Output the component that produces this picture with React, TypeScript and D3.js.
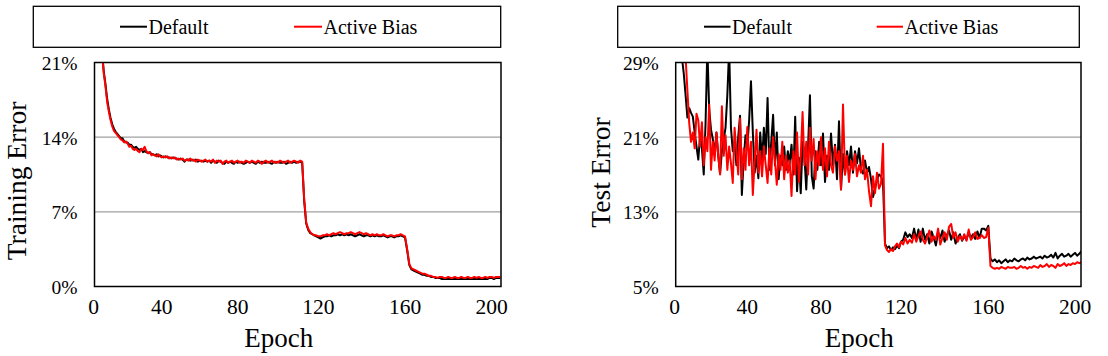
import React from "react";
import * as d3 from "d3";

// ---------- DATA ----------
const xTicks = [0, 40, 80, 120, 160, 200];
const trainTicks = [0, 7, 14, 21];
const testTicks = [5, 13, 21, 29];
const seriesNames = ["Default", "Active Bias"];
const seriesColors = ["#000000", "#ff0000"];

// Training error (%), epochs 1..204
const trainDefault = [
  60, 45, 35, 27, 22, 20.2, 19.0, 17.6, 16.6, 15.8,
  15.2, 14.8, 14.5, 14.3, 14.1, 13.9, 13.9, 13.6, 13.5, 13.5,
  13.3, 13.3, 13.1, 13.0, 13.1, 12.9, 12.8, 12.9, 12.6, 12.7,
  12.6, 12.5, 12.6, 12.4, 12.4, 12.3, 12.4, 12.2, 12.3, 12.2,
  12.1, 12.2, 12.1, 12.1, 12.0, 12.1, 12.0, 12.0, 11.9, 12.0,
  11.9, 11.7, 11.9, 11.9, 11.8, 11.9, 11.8, 11.9, 11.7, 11.8,
  11.8, 11.7, 11.8, 11.7, 11.8, 11.6, 11.8, 11.7, 11.6, 11.8,
  11.7, 11.6, 11.5, 11.7, 11.6, 11.7, 11.6, 11.5, 11.7, 11.6,
  11.7, 11.6, 11.5, 11.6, 11.7, 11.6, 11.7, 11.6, 11.5, 11.7,
  11.6, 11.7, 11.6, 11.6, 11.7, 11.6, 11.5, 11.7, 11.6, 11.7,
  11.6, 11.6, 11.7, 11.5, 11.6, 11.7, 11.6, 11.7, 11.6, 11.7,
  11.7, 11.6, 8.0, 5.9, 5.3, 5.0, 4.9, 4.8, 4.7, 4.6,
  4.5, 4.6, 4.7, 4.7, 4.8, 4.7, 4.8, 4.8, 4.9, 4.8,
  4.9, 4.8, 4.9, 4.8, 4.9, 4.8, 4.7, 4.8, 4.9, 4.8,
  4.7, 4.8, 4.8, 4.7, 4.8, 4.7, 4.8, 4.7, 4.7, 4.8,
  4.7, 4.6, 4.7, 4.7, 4.6, 4.7, 4.7, 4.8, 4.7, 4.6,
  3.4, 2.0, 1.6, 1.5, 1.4, 1.3, 1.2, 1.1, 1.1, 1.0,
  1.0, 0.9, 0.9, 0.8, 0.8, 0.8, 0.7, 0.8, 0.7, 0.7,
  0.8, 0.7, 0.7, 0.8, 0.7, 0.7, 0.7, 0.8, 0.7, 0.7,
  0.8, 0.7, 0.7, 0.8, 0.7, 0.8, 0.7, 0.7, 0.8, 0.8,
  0.7, 0.8, 0.8, 0.8,
];
const trainActiveBias = [
  60, 45, 35, 27, 22, 20.0, 18.8, 17.3, 16.4, 15.6,
  15.0, 14.6, 14.4, 14.2, 14.0, 13.8, 13.7, 13.5, 13.6, 13.4,
  13.1, 13.2, 12.9, 12.8, 12.9, 12.7, 12.6, 12.9, 12.8, 13.1,
  12.7, 12.5, 12.6, 12.3, 12.4, 12.3, 12.2, 12.4, 12.2, 12.1,
  12.2, 12.1, 12.2, 12.0, 12.1, 12.0, 12.1, 11.9, 12.0, 11.9,
  12.0, 11.8, 11.9, 11.8, 12.0, 11.8, 11.9, 11.7, 11.9, 11.8,
  11.7, 11.8, 11.9, 11.7, 11.8, 11.7, 11.9, 11.6, 11.8, 11.7,
  11.8, 11.5, 11.7, 11.8, 11.6, 11.7, 11.8, 11.6, 11.7, 11.8,
  11.6, 11.7, 11.6, 11.8, 11.7, 11.6, 11.8, 11.7, 11.6, 11.8,
  11.7, 11.5, 11.7, 11.8, 11.6, 11.7, 11.8, 11.6, 11.7, 11.6,
  11.8, 11.7, 11.6, 11.7, 11.8, 11.6, 11.7, 11.8, 11.7, 11.6,
  11.8, 11.7, 8.2, 6.0, 5.4, 5.1, 4.9, 4.8, 4.8, 4.7,
  4.7, 4.8, 4.8, 4.9, 4.8, 4.9, 5.0, 4.9, 5.0, 5.1,
  5.0, 4.9, 5.0, 5.0, 5.1, 5.0, 4.9, 5.0, 5.1, 5.0,
  4.9, 5.0, 4.9, 4.8, 4.9, 4.8, 4.9, 4.8, 4.8, 4.9,
  4.8, 4.7, 4.8, 4.8, 4.7, 4.8, 4.8, 4.9, 4.8, 4.7,
  3.5, 2.1, 1.7, 1.6, 1.5, 1.4, 1.3, 1.2, 1.2, 1.1,
  1.0, 1.0, 0.9, 0.9, 0.8, 0.9, 0.9, 0.8, 0.8, 0.9,
  0.8, 0.8, 0.9, 0.8, 0.8, 0.9, 0.8, 0.8, 0.9, 0.8,
  0.8, 0.9, 0.8, 0.9, 0.8, 0.8, 0.9, 0.8, 0.9, 0.9,
  0.8, 0.9, 0.9, 0.9,
];

// Test error (%), epochs 1..203
const testDefault = [
  33, 31, 30, 29.5, 27.8, 25.5, 23.1, 24.1, 23.6, 23.2,
  21.5, 20.0, 18.6, 21.2, 19.8, 17.0, 22.5, 30.5, 24.0, 21.8,
  20.8, 19.2, 21.5, 19.0, 17.1, 19.5, 20.8, 22.0, 25.5, 30.5,
  22.0, 19.5, 20.5, 18.0, 21.0, 23.3, 14.8, 18.5, 21.2, 20.0,
  22.8, 27.0, 21.5, 17.2, 19.0, 16.6, 21.5, 18.5, 22.0, 19.2,
  25.2, 17.5, 20.5, 23.4, 18.0, 21.5, 16.5, 19.0, 18.0, 20.0,
  17.5, 19.5, 18.2, 20.2, 17.0, 23.2, 15.2, 18.8, 15.0, 20.5,
  19.0, 15.4, 20.0, 25.5, 16.8, 15.5, 19.5, 17.5, 20.5, 18.0,
  21.4, 16.2, 19.0, 17.5, 21.4, 18.0, 20.2, 16.5, 22.7, 15.4,
  19.2, 17.0, 19.5, 18.0, 20.0, 17.2, 19.5, 18.2, 19.8, 17.5,
  17.1, 18.5, 17.2, 17.8, 16.5, 14.6, 15.5, 16.4, 17.0, 16.8,
  16.2, 9.6, 9.1, 9.3, 8.9, 9.2, 9.0, 9.4, 9.1, 9.8,
  10.0, 10.8, 10.3, 10.6, 10.2, 11.2, 10.0, 11.1, 9.8, 11.2,
  10.0, 10.6, 9.6, 10.9, 10.2, 9.4, 10.8, 10.2, 11.0, 9.8,
  10.5, 11.0, 10.0, 10.8, 9.6, 10.2, 10.6, 9.9, 10.4, 10.0,
  10.8, 10.2, 10.6, 10.1, 10.9, 10.2, 11.2, 11.2, 11.0, 11.5,
  8.0, 7.7, 7.9, 7.6, 7.8, 7.5, 7.7, 7.9, 7.6, 7.8,
  7.7, 8.0, 7.8, 7.7, 7.9, 8.0, 7.8, 8.1, 7.9, 8.0,
  8.2, 8.0, 8.1, 8.2, 8.0, 8.3, 8.1, 8.2, 8.4, 8.1,
  8.6, 8.0, 8.3, 8.5, 8.2, 8.3, 8.5, 8.2, 8.4, 8.6,
  8.3, 8.5, 8.8,
];
const testActiveBias = [
  34, 31, 30, 29.5, 30, 29.6, 26, 22.5, 20.5, 21.5,
  19.8, 23.5, 22.8, 20.0, 22.6, 18.0, 21.0, 19.5, 24.5, 17.5,
  20.5, 18.5, 21.5, 19.0, 17.0, 24.3, 19.0, 21.2, 17.5, 20.0,
  18.2, 16.1, 22.0, 19.5, 17.0, 23.0, 16.5, 19.8, 17.5, 22.1,
  18.0, 20.5, 14.8, 18.5, 21.8, 17.2, 19.5, 16.8, 20.0, 18.0,
  16.1, 19.8, 17.0, 21.0, 18.5, 15.9, 19.2, 17.5, 20.5, 16.5,
  19.0, 17.2, 18.5, 14.7, 19.5, 17.0, 21.5, 16.2, 19.0, 23.7,
  18.0, 20.5, 17.0, 22.0, 18.5, 20.8, 16.5, 19.5, 18.0, 21.0,
  17.5, 19.8, 16.8, 20.5, 18.0, 17.2, 20.0, 18.5, 19.5, 15.4,
  24.5, 17.0, 19.0, 16.2, 18.5, 17.5, 19.2, 16.8, 18.0, 17.2,
  19.0, 16.5, 17.5, 15.2, 13.6, 16.8, 15.0, 17.2, 15.5, 16.0,
  20.3, 9.4, 8.9, 8.7, 9.0, 8.8, 9.3, 9.6, 9.2, 9.8,
  9.5, 10.2, 9.6, 10.0, 9.7, 10.6, 9.8, 10.4, 10.9, 10.0,
  9.6, 10.3, 11.0, 9.8, 10.4, 10.0, 11.2, 9.5, 10.2, 10.8,
  10.0, 11.4, 11.7, 10.2, 10.8, 9.8, 10.4, 10.0, 10.6, 9.9,
  11.1, 10.0, 10.3, 10.8, 10.1, 10.2, 10.5, 10.2, 10.3, 11.3,
  7.2, 7.0, 6.9, 7.0, 6.9, 7.1, 7.0, 6.9, 7.1, 7.0,
  7.0, 7.1, 6.9, 7.0, 7.2, 7.0, 7.1, 6.9, 7.1, 7.0,
  7.2, 7.1, 7.0, 7.3, 7.1, 7.2, 7.4, 7.1, 7.3, 7.2,
  7.0, 7.4, 7.2, 7.3, 7.5, 7.2, 7.4, 7.3, 7.5, 7.4,
  7.6, 7.5, 7.6,
];

// ---------- LAYOUT ----------
const FONT = "'Liberation Serif', 'Times New Roman', serif";

type PanelProps = {
  id: string;
  left: number;
  right: number;
  top: number;
  bottom: number;
  xStops: number[];
  xMax: number;
  yDomain: [number, number];
  yTicks: number[];
  series: number[][];
  yTitle: string;
  yTitleX: number;
  yTitleY: number;
  legendBox: [number, number, number, number];
  legendItems: [number, number][];
};

function Panel(p: PanelProps) {
  const x = d3
    .scaleLinear()
    .domain([...xTicks, p.xMax])
    .range([p.left - 1, ...p.xStops, p.right]);
  const y = d3.scaleLinear().domain(p.yDomain).range([p.bottom, p.top]);
  const line = d3
    .line<number>()
    .x((_, i) => x(i + 1))
    .y((v) => y(v));
  const [lx, ly, lw, lh] = p.legendBox;
  return (
    <g>
      <defs>
        <clipPath id={p.id}>
          <rect x={p.left} y={p.top} width={p.right - p.left} height={p.bottom - p.top} />
        </clipPath>
      </defs>
      {/* legend */}
      <rect x={lx} y={ly} width={lw} height={lh} fill="#fff" stroke="#000" strokeWidth={1.3} />
      {seriesNames.map((name, i) => {
        const [x0, x1] = p.legendItems[i];
        return (
          <g key={name}>
            <line x1={x0} x2={x1} y1={26.7} y2={26.7} stroke={seriesColors[i]} strokeWidth={2} />
            <text x={x1 + 1.5} y={33.5} fontFamily={FONT} fontSize={20} fill="#000">
              {name}
            </text>
          </g>
        );
      })}
      {/* grid */}
      {p.yTicks.slice(1, -1).map((t) => (
        <line key={t} x1={p.left} x2={p.right} y1={y(t)} y2={y(t)} stroke="#a0a0a0" strokeWidth={1.3} />
      ))}
      {/* series */}
      <g clipPath={`url(#${p.id})`}>
        {p.series.map((s, i) => (
          <path key={i} d={line(s) || ""} fill="none" stroke={seriesColors[i]} strokeWidth={2} strokeLinejoin="round" />
        ))}
      </g>
      {/* frame */}
      <rect x={p.left} y={p.top} width={p.right - p.left} height={p.bottom - p.top} fill="none" stroke="#000" strokeWidth={1.5} />
      {/* y ticks */}
      {p.yTicks.map((t) => (
        <text key={t} x={p.left - 17} y={y(t) + 7.5} textAnchor="end" fontFamily={FONT} fontSize={19.5} fill="#000">
          {t}%
        </text>
      ))}
      {/* x ticks */}
      {xTicks.map((t) => (
        <text key={t} x={x(t)} y={314} textAnchor="middle" fontFamily={FONT} fontSize={21.5} fill="#000">
          {t}
        </text>
      ))}
      <text x={(p.left + p.right) / 2 - 19} y={347} textAnchor="middle" fontFamily={FONT} fontSize={27} fill="#000">
        Epoch
      </text>
      <text
        transform={`translate(${p.yTitleX},${p.yTitleY}) rotate(-90)`}
        textAnchor="middle"
        fontFamily={FONT}
        fontSize={27.5}
        fill="#000"
      >
        {p.yTitle}
      </text>
    </g>
  );
}

export default function App() {
  return (
    <svg width={1108} height={356} style={{ position: "absolute", left: 0, top: 0, background: "#fff" }}>
      <rect width={1108} height={356} fill="#fff" />
      <Panel
        id="clipL"
        left={94.5}
        right={501}
        top={62.5}
        bottom={286.5}
        xStops={[161.7, 237.7, 318.3, 405, 491.7]}
        xMax={204.3}
        yDomain={[0, 21]}
        yTicks={trainTicks}
        series={[trainDefault, trainActiveBias]}
        yTitle="Training Error"
        yTitleX={26}
        yTitleY={181}
        legendBox={[33.3, 6.3, 467.4, 41]}
        legendItems={[[120, 147], [294, 322]]}
      />
      <Panel
        id="clipR"
        left={675.7}
        right={1081}
        top={62.5}
        bottom={286.5}
        xStops={[747.3, 821, 901, 988.3, 1075]}
        xMax={202.8}
        yDomain={[5, 29]}
        yTicks={testTicks}
        series={[testDefault, testActiveBias]}
        yTitle="Test Error"
        yTitleX={609.5}
        yTitleY={172.5}
        legendBox={[617.7, 6.3, 461.6, 41]}
        legendItems={[[704, 730.5], [876.7, 903]]}
      />
    </svg>
  );
}
